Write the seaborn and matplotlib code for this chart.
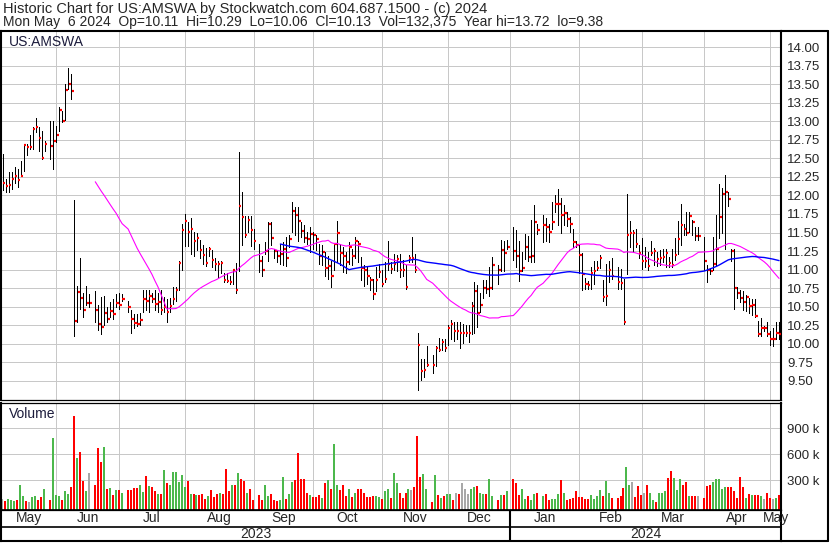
import numpy as np
import pandas as pd
import seaborn as sns
import matplotlib
matplotlib.use("Agg")
import matplotlib.pyplot as plt
from matplotlib.lines import Line2D

# market holidays inside the window (no bar, but the slot stays empty)
holidays = ["2023-05-29", "2023-06-19", "2023-07-04", "2023-09-04", "2023-11-23",
            "2023-12-25", "2024-01-01", "2024-01-15", "2024-02-19", "2024-03-29"]

close = [
    12.17, 12.13, 12.14, 12.22, 12.26, 12.21, 12.26, 12.68, 12.65, 12.65, 12.90, 12.92, 12.78, 12.51, 12.69, 12.67, 12.73,
    12.82, 13.15, 13.00, 13.42, 13.50, 13.41, 10.31, 10.70, 10.62, 10.46, 10.55, 10.55, 10.46, 10.27, 10.23, 10.42, 10.34, 10.44, 10.40, 10.55, 10.52,
    10.61, 10.49, 10.34, 10.28, 10.27, 10.32, 10.60, 10.58, 10.65, 10.61, 10.54, 10.57, 10.46, 10.50, 10.43, 10.51, 10.60, 10.72, 11.09, 11.53,
    11.66, 11.51, 11.55, 11.38, 11.42, 11.26, 11.20, 11.09, 11.28, 11.13, 11.08, 11.07, 11.09, 10.86, 10.85, 10.84, 10.99, 10.73, 11.86, 11.71, 11.46, 11.67, 11.53,
    11.39, 11.11, 11.00, 11.25, 11.61, 11.43, 11.25, 11.18, 11.21, 11.28, 11.16, 11.41, 11.79, 11.74, 11.65, 11.52, 11.42, 11.41, 11.48, 11.46,
    11.41, 11.18, 11.24, 11.02, 11.05, 10.91, 11.34, 11.49, 11.23, 11.18, 11.10, 11.30, 11.19, 11.38, 11.34, 11.02, 10.99, 10.92, 10.86, 10.67, 10.86, 10.97,
    10.80, 10.87, 11.07, 11.01, 11.08, 11.14, 11.00, 10.99, 10.76, 11.16, 11.16, 10.99, 9.99, 9.64, 9.65, 9.72, 9.71, 9.95, 9.92, 10.02, 9.94,
    10.21, 10.27, 10.17, 10.17, 10.15, 10.15, 10.15, 10.15, 10.51, 10.71, 10.42, 10.52, 10.75, 10.74, 10.75, 11.06, 10.99, 11.26, 11.22, 11.30,
    11.25, 11.19, 10.98, 11.02, 11.30, 11.17, 11.19, 11.64, 11.53, 11.60, 11.57, 11.51, 11.64, 11.88, 11.89, 11.74, 11.76, 11.68, 11.62, 11.37, 11.33,
    11.20, 10.94, 10.80, 10.79, 10.96, 10.98, 11.02, 11.15, 10.63, 10.64, 11.00, 10.92, 10.84, 10.82, 10.30, 11.46, 11.49, 11.49, 11.34, 11.22,
    11.12, 11.12, 11.05, 11.23, 11.25, 11.14, 11.16, 11.17, 11.23, 11.09, 11.06, 11.20, 11.41, 11.60, 11.55, 11.50, 11.72, 11.64, 11.45, 11.45,
    11.12, 11.00, 10.98, 11.08, 11.28, 11.71, 12.02, 12.05, 11.95, 11.25, 10.75, 10.69, 10.62, 10.57, 10.63, 10.51, 10.52, 10.37, 10.13, 10.22, 10.22, 10.13,
    10.06, 10.06, 10.14, 10.13,
]

high = [
    12.56, 12.22, 12.31, 12.31, 12.38, 12.36, 12.47, 12.69, 12.69, 12.81, 12.92, 13.04, 12.92, 12.87, 12.73, 13.00, 13.00,
    12.94, 13.19, 13.14, 13.50, 13.72, 13.64, 11.94, 10.78, 11.16, 10.69, 10.78, 10.67, 10.71, 10.52, 10.63, 10.64, 10.49, 10.56, 10.61, 10.67, 10.69,
    10.67, 10.58, 10.45, 10.40, 10.40, 10.42, 10.73, 10.73, 10.73, 10.68, 10.72, 10.68, 10.73, 10.63, 10.60, 10.62, 10.76, 10.76, 11.12, 11.61,
    11.75, 11.64, 11.70, 11.51, 11.49, 11.40, 11.33, 11.29, 11.31, 11.26, 11.15, 11.11, 11.12, 10.96, 10.96, 10.92, 11.01, 11.09, 12.59, 12.04, 11.72, 11.72, 11.72,
    11.55, 11.35, 11.19, 11.37, 11.64, 11.64, 11.28, 11.26, 11.35, 11.37, 11.44, 11.46, 11.91, 11.84, 11.84, 11.64, 11.60, 11.51, 11.58, 11.51,
    11.46, 11.35, 11.33, 11.24, 11.19, 11.12, 11.35, 11.66, 11.35, 11.31, 11.24, 11.37, 11.28, 11.44, 11.39, 11.17, 11.06, 11.03, 10.90, 10.88, 11.03, 11.08,
    10.99, 11.10, 11.39, 11.10, 11.21, 11.20, 11.21, 11.13, 11.06, 11.20, 11.44, 11.21, 10.15, 9.79, 9.80, 9.97, 9.85, 9.97, 10.08, 10.07, 10.06,
    10.26, 10.32, 10.29, 10.29, 10.29, 10.27, 10.25, 10.25, 10.56, 10.83, 10.79, 10.68, 10.86, 10.86, 11.04, 11.17, 11.06, 11.40, 11.38, 11.40,
    11.58, 11.53, 11.39, 11.24, 11.48, 11.45, 11.67, 11.87, 11.62, 11.73, 11.69, 11.62, 11.91, 12.00, 12.09, 11.97, 11.87, 11.78, 11.71, 11.55, 11.39,
    11.35, 11.23, 10.89, 10.85, 11.03, 11.12, 11.12, 11.20, 10.86, 11.08, 11.12, 11.16, 11.03, 11.01, 10.88, 12.02, 11.66, 11.53, 11.55, 11.33,
    11.42, 11.31, 11.24, 11.38, 11.29, 11.24, 11.26, 11.28, 11.28, 11.17, 11.28, 11.42, 11.66, 11.89, 11.61, 11.78, 11.78, 11.67, 11.58, 11.58,
    11.44, 11.06, 11.02, 11.44, 11.73, 12.15, 12.10, 12.28, 12.05, 11.28, 11.28, 10.77, 10.73, 10.71, 10.66, 10.62, 10.60, 10.60, 10.31, 10.35, 10.24, 10.29,
    10.17, 10.22, 10.29, 10.29,
]

low = [
    12.07, 12.05, 12.05, 12.08, 12.17, 12.12, 12.27, 12.33, 12.54, 12.63, 12.63, 12.85, 12.60, 12.49, 12.60, 12.49, 12.36,
    12.72, 12.87, 12.99, 13.01, 13.44, 13.30, 10.11, 10.29, 10.47, 10.36, 10.52, 10.49, 10.29, 10.18, 10.13, 10.25, 10.29, 10.36, 10.33, 10.49, 10.47,
    10.58, 10.43, 10.15, 10.22, 10.24, 10.25, 10.43, 10.45, 10.43, 10.57, 10.45, 10.43, 10.40, 10.43, 10.30, 10.43, 10.54, 10.58, 10.72, 10.99,
    11.32, 11.32, 11.21, 11.18, 11.27, 11.16, 11.07, 11.05, 11.18, 11.03, 11.00, 10.90, 10.96, 10.83, 10.83, 10.81, 10.81, 10.69, 10.98, 11.33, 11.44, 11.51, 11.32,
    11.28, 10.97, 10.92, 11.21, 11.12, 11.33, 11.15, 11.10, 11.08, 11.06, 11.05, 11.30, 11.51, 11.46, 11.39, 11.44, 11.37, 11.35, 11.24, 11.28,
    11.26, 11.08, 11.06, 10.92, 10.88, 10.76, 11.00, 11.10, 11.06, 10.97, 10.95, 11.08, 11.06, 11.15, 11.10, 10.86, 10.78, 10.80, 10.72, 10.61, 10.71, 10.90,
    10.78, 10.83, 11.00, 10.95, 11.00, 10.98, 10.90, 10.91, 10.74, 11.10, 11.10, 10.97, 9.38, 9.51, 9.55, 9.70, 9.61, 9.70, 9.91, 9.92, 9.90,
    9.99, 10.07, 10.04, 10.06, 9.95, 10.01, 10.11, 10.02, 10.13, 10.14, 10.23, 10.43, 10.62, 10.69, 10.64, 10.74, 10.80, 10.98, 10.98, 11.28,
    11.13, 11.04, 10.85, 10.98, 11.14, 11.12, 11.10, 11.10, 11.48, 11.37, 11.39, 11.37, 11.55, 11.78, 11.60, 11.50, 11.60, 11.59, 11.51, 11.31, 11.30,
    10.96, 10.72, 10.74, 10.74, 10.74, 10.81, 10.99, 11.02, 10.58, 10.52, 10.83, 10.88, 10.74, 10.74, 10.27, 10.94, 11.31, 11.24, 11.30, 11.15,
    11.01, 11.04, 11.00, 11.20, 11.06, 11.05, 11.06, 11.10, 11.03, 11.04, 11.03, 11.13, 11.21, 11.33, 11.46, 11.46, 11.51, 11.46, 11.40, 11.40,
    10.99, 10.83, 10.94, 11.00, 11.06, 11.43, 11.50, 11.28, 11.86, 11.12, 10.47, 10.62, 10.57, 10.46, 10.44, 10.41, 10.39, 10.36, 10.11, 10.11, 10.17, 10.11,
    9.99, 9.97, 10.06, 10.06,
]

# thousands of shares
volume = [
    80, 61, 85, 69, 61, 74, 247, 119, 61, 46, 108, 119, 74, 108, 200, 74, 789,
    130, 119, 74, 177, 143, 223, 1042, 558, 627, 292, 177, 385, 247, 673, 512, 685, 200, 212, 130, 188, 188,
    154, 188, 188, 212, 212, 247, 165, 350, 234, 223, 177, 143, 143, 419, 269, 247, 396, 396, 281, 361,
    223, 292, 143, 143, 130, 130, 143, 85, 119, 188, 108, 143, 154, 143, 431, 177, 247, 247, 385, 316, 292, 157, 200,
    74, 130, 74, 247, 119, 143, 74, 61, 74, 338, 85, 143, 281, 303, 616, 316, 316, 154, 130, 108,
    108, 130, 96, 269, 303, 200, 720, 247, 188, 247, 119, 200, 108, 154, 200, 200, 154, 108, 108, 119, 119, 108,
    85, 177, 200, 96, 385, 269, 154, 96, 154, 200, 188, 223, 812, 338, 374, 200, 50, 361, 130, 96, 119,
    143, 143, 74, 154, 143, 269, 200, 143, 200, 223, 234, 154, 143, 143, 316, 119, 74, 130, 130, 177,
    316, 269, 130, 200, 85, 119, 74, 143, 154, 119, 143, 74, 85, 85, 143, 303, 154, 74, 85, 96, 177,
    108, 108, 85, 85, 130, 85, 119, 188, 119, 292, 154, 96, 96, 119, 212, 454, 247, 281, 108, 234,
    130, 154, 247, 154, 74, 50, 154, 154, 177, 327, 408, 327, 188, 316, 247, 281, 119, 119, 119, 119,
    96, 234, 247, 281, 316, 316, 200, 223, 223, 223, 177, 96, 338, 223, 96, 143, 130, 130, 130, 119, 85, 154,
    96, 85, 96, 132,
]

price_ticks = [9.50, 9.75, 10.00, 10.25, 10.50, 10.75, 11.00, 11.25, 11.50, 11.75,
               12.00, 12.25, 12.50, 12.75, 13.00, 13.25, 13.50, 13.75, 14.00]
volume_ticks = [300, 600, 900]

title1 = "Historic Chart for US:AMSWA by Stockwatch.com 604.687.1500 - (c) 2024"
title2 = ("Mon May  6 2024  Op=10.11  Hi=10.29  Lo=10.06  Cl=10.13  "
          "Vol=132,375  Year hi=13.72  lo=9.38")

# ---- build the frame ----
days = pd.bdate_range("2023-05-08", "2024-05-06")
slot = pd.Series(np.arange(len(days)), index=days)
trade = days[~days.isin(pd.to_datetime(holidays))]

df = pd.DataFrame({"date": trade, "close": close, "high": high, "low": low, "volume": volume})
df["x"] = slot[trade].values
df["ma30"] = df["close"].rolling(30).mean()
df["ma90"] = df["close"].rolling(90).mean()
chg = df["close"].diff()
GREEN, RED, GREY = "#4cb84c", "#ff0000", "#a8a8a8"
df["vcol"] = np.where(chg > 0, GREEN, np.where(chg < 0, RED, GREY))

# month boundaries = last weekday on/before the 1st
month_starts = pd.date_range("2023-06-01", "2024-05-01", freq="MS")
bounds = [slot[days[days <= m][-1]] for m in month_starts]

W, H = 830, 543
sns.set_style("white")
plt.rcParams["font.family"] = ["Liberation Sans", "DejaVu Sans"]
plt.rcParams["font.size"] = 10

fig = plt.figure(figsize=(W / 100, H / 100), dpi=100)


def rect(l, t, r, b):
    return [l / W, 1 - b / H, (r - l) / W, (b - t) / H]


XL = (-0.57, 260.65)
GRID = "#c8c8c8"
PX = 0.72  # one pixel in points

ax_p = fig.add_axes(rect(1, 31, 781, 400))
ax_v = fig.add_axes(rect(1, 403, 781, 509.5))
ax_d = fig.add_axes(rect(1, 509.5, 781, 541))

# ---- price panel ----
ax_p.set_xlim(*XL)
ax_p.set_ylim(9.243, 14.216)
for b in bounds:
    ax_p.axvline(b, color=GRID, lw=PX, zorder=0)
for t in price_ticks:
    ax_p.axhline(t, color=GRID, lw=PX, zorder=0)
ax_p.vlines(df["x"], df["low"], df["high"], color="black", lw=PX, antialiased=False, zorder=2)
ax_p.hlines(df["close"], df["x"] + 0.1, df["x"] + 0.85, color=RED, lw=2.2 * PX, zorder=3)
sns.lineplot(data=df, x="x", y="ma30", color="#ff00ff", lw=0.8, ax=ax_p, zorder=4)
sns.lineplot(data=df, x="x", y="ma90", color="#0000ff", lw=1.0, ax=ax_p, zorder=4)
ax_p.set_xlabel("")
ax_p.set_ylabel("")
ax_p.set_xticks([])
ax_p.yaxis.tick_right()
ax_p.set_yticks(price_ticks)
ax_p.set_yticklabels([f"{t:.2f}" for t in price_ticks])
ax_p.tick_params(axis="y", length=0, pad=4.5, labelsize=9.5)
ax_p.text(8 / 780, 1 - 10.5 / 369, "US:AMSWA", transform=ax_p.transAxes,
          va="center", ha="left", fontsize=10, color="#1c1c3c")

# ---- volume panel ----
vfloor, vtop = -37, 1192
ax_v.set_xlim(*XL)
ax_v.set_ylim(vfloor, vtop)
for b in bounds:
    ax_v.axvline(b, color=GRID, lw=PX, zorder=0)
for t in volume_ticks:
    ax_v.axhline(t, color=GRID, lw=PX, zorder=0)
ax_v.bar(df["x"] - 0.1, df["volume"] - vfloor, bottom=vfloor, width=0.67,
         color=df["vcol"].tolist(), linewidth=0, edgecolor="none", antialiased=False, zorder=2)
ax_v.set_xticks([])
ax_v.yaxis.tick_right()
ax_v.set_yticks(volume_ticks)
ax_v.set_yticklabels([f"{t} k" for t in volume_ticks])
ax_v.tick_params(axis="y", length=0, pad=4.5, labelsize=9.5)
ax_v.text(8 / 780, 1 - 10.5 / 106.5, "Volume", transform=ax_v.transAxes,
          va="center", ha="left", fontsize=10, color="#1c1c3c")

# ---- date rows ----
ax_d.set_xlim(*XL)
ax_d.set_ylim(0, 1)
ax_d.set_xticks([])
ax_d.set_yticks([])
split = 14 / 31.5
ax_d.axhline(split, color="black", lw=1.2)
edges = [XL[0]] + bounds + [XL[1]]
labels = ["May"] + [m.strftime("%b") for m in month_starts]
for a, b, lab in zip(edges[:-1], edges[1:], labels):
    ax_d.text((a + b) / 2, 0.73, lab, ha="center", va="center", fontsize=10, clip_on=False)
jan = bounds[7]
ax_d.axvline(jan, color="black", lw=1.5)
ax_d.text((XL[0] + jan) / 2, split / 2, "2023", ha="center", va="center", fontsize=10)
ax_d.text((jan + XL[1]) / 2, split / 2, "2024", ha="center", va="center", fontsize=10)

for ax in (ax_p, ax_v, ax_d):
    for name, sp in ax.spines.items():
        sp.set_visible(True)
        sp.set_color("black")
        sp.set_linewidth(1.5 if name in ("left", "right") else 0.9)
ax_p.spines["top"].set_linewidth(1.5)
ax_d.spines["bottom"].set_linewidth(1.5)
ax_v.spines["bottom"].set_linewidth(1.2)

# outer frame round the label column
fig.add_artist(Line2D([781 / W, 828 / W], [1 - 30.5 / H] * 2, color="black", lw=1.5))
fig.add_artist(Line2D([828 / W] * 2, [1 - 30.5 / H, 1 - 541 / H], color="black", lw=1.5))
fig.add_artist(Line2D([781 / W, 828 / W], [1 - 541 / H] * 2, color="black", lw=1.5))

fig.text(3 / W, 1 - 8.5 / H, title1, ha="left", va="center", fontsize=10.5)
fig.text(3 / W, 1 - 22 / H, title2, ha="left", va="center", fontsize=10)

fig.savefig("out.png", dpi=100)
